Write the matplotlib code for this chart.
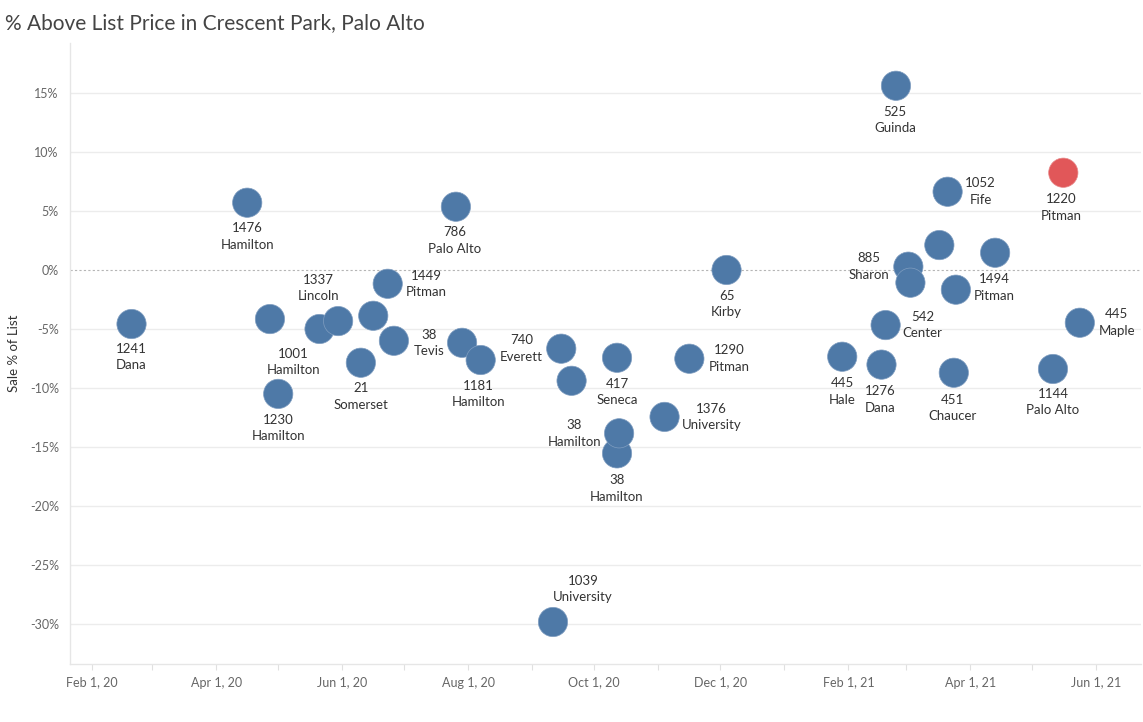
import datetime as dt
import matplotlib.pyplot as plt
import matplotlib.dates as mdates
from matplotlib.ticker import FuncFormatter, MultipleLocator

# sale date, sale price as % above/below list, address
sale_dates = [
    "2020-02-20", "2020-04-16", "2020-04-27", "2020-05-01", "2020-05-21", "2020-05-30",
    "2020-06-10", "2020-06-16", "2020-06-23", "2020-06-26", "2020-07-26", "2020-07-29",
    "2020-08-07", "2020-09-11", "2020-09-15", "2020-09-20", "2020-10-12", "2020-10-12",
    "2020-10-13", "2020-11-04", "2020-11-16", "2020-12-04", "2021-01-29", "2021-02-17",
    "2021-02-19", "2021-02-24", "2021-03-02", "2021-03-03", "2021-03-17", "2021-03-21",
    "2021-03-24", "2021-03-25", "2021-04-13", "2021-05-11", "2021-05-16", "2021-05-24",
]
pct_of_list = [
    -4.55, 5.73, -4.13, -10.47, -4.97, -4.30,
    -7.83, -3.85, -1.14, -5.97, 5.39, -6.14,
    -7.60, -29.80, -6.64, -9.36, -7.41, -15.51,
    -13.81, -12.42, -7.49, 0.03, -7.32, -7.99,
    -4.64, 15.64, 0.31, -1.05, 2.14, 6.66,
    -8.68, -1.64, 1.49, -8.36, 8.27, -4.44,
]
house_numbers = [
    "1241", "1476", "", "1230", "1001", "1337",
    "21", "", "1449", "", "786", "38",
    "1181", "1039", "740", "", "417", "38",
    "38", "1376", "1290", "65", "445", "1276",
    "542", "525", "885", "", "", "1052",
    "451", "", "1494", "1144", "1220", "445",
]
streets = [
    "Dana", "Hamilton", "", "Hamilton", "Hamilton", "Lincoln",
    "Somerset", "", "Pitman", "", "Palo Alto", "Tevis",
    "Hamilton", "University", "Everett", "", "Seneca", "Hamilton",
    "Hamilton", "University", "Pitman", "Kirby", "Hale", "Dana",
    "Center", "Guinda", "Sharon", "", "", "Fife",
    "Chaucer", "", "Pitman", "Palo Alto", "Pitman", "Maple",
]
highlight = ("1220", "Pitman")

# where each label sits relative to its mark, in pixels
label_offsets = [
    (0, -33), (0, -34), (0, 0), (0, -34), (-26, -33), (-20, 33),
    (0, -34), (0, 0), (39, 0), (0, 0), (-1, -34), (-33, 0),
    (-2, -34), (30, 33), (-40, 0), (0, 0), (0, -34), (0, -35),
    (-45, 0), (47, 0), (40, 0), (0, -34), (0, -35), (-1, -35),
    (37, 0), (-1, -34), (-39, 0), (0, 0), (0, 0), (33, 0),
    (-1, -35), (0, 0), (-1, -35), (0, -33), (-2, -35), (37, 0),
]

BLUE = "#4e79a7"
RED = "#e15759"
FONT = ["Lato", "DejaVu Sans"]


def main():
    plt.rcParams["font.family"] = FONT
    fig = plt.figure(figsize=(11.43, 7.22), dpi=100)
    ax = fig.add_axes([0.0612, 0.0803, 0.9374, 0.8601])

    xs = [mdates.date2num(dt.date.fromisoformat(d)) for d in sale_dates]
    colors = [RED if (n, s) == highlight else BLUE for n, s in zip(house_numbers, streets)]
    edges = ["#e88a8b" if c == RED else "#7f9dc0" for c in colors]

    ax.scatter(xs, pct_of_list, s=445, c=colors, edgecolors=edges, linewidths=0.5, zorder=3)

    for x, y, num, street, (dx, dy) in zip(xs, pct_of_list, house_numbers, streets, label_offsets):
        if not num:
            continue
        ax.annotate(f"{num}\n{street}", (x, y), xytext=(dx, dy), textcoords="offset pixels",
                    ha="center", va="center", multialignment="center", linespacing=1.45,
                    fontsize=9.5, color="#333333", zorder=4)

    start = mdates.date2num(dt.date(2020, 2, 1))
    ax.set_xlim(start - 10.8, start + 507.8)
    ax.set_ylim(-33.36, 19.26)

    for v in range(-30, 20, 5):
        if v == 0:
            ax.axhline(0, color="#b5b5b5", lw=0.8, ls=(0, (2, 2)), zorder=1)
        else:
            ax.axhline(v, color="#ececec", lw=1, zorder=0)

    ax.yaxis.set_major_locator(MultipleLocator(5))
    ax.yaxis.set_major_formatter(FuncFormatter(lambda v, pos: f"{v:.0f}%"))
    ax.tick_params(axis="y", length=0, pad=8, labelsize=9, labelcolor="#666666")

    ax.xaxis.set_major_locator(mdates.MonthLocator(bymonth=[2, 4, 6, 8, 10, 12]))
    ax.xaxis.set_minor_locator(mdates.MonthLocator(bymonth=[1, 3, 5, 7, 9, 11]))

    def fmt_date(x, pos):
        d = mdates.num2date(x)
        return f"{d:%b} {d.day}, {d:%y}"

    ax.xaxis.set_major_formatter(FuncFormatter(fmt_date))
    ax.tick_params(axis="x", which="both", length=4, width=0.8, color="#e0e0e0",
                   labelsize=9, labelcolor="#666666", pad=5)

    for side in ("top", "right"):
        ax.spines[side].set_visible(False)
    for side in ("left", "bottom"):
        ax.spines[side].set_color("#e6e6e6")
        ax.spines[side].set_linewidth(1)

    ax.set_ylabel("Sale % of List", fontsize=9.5, color="#333333")
    ax.yaxis.set_label_coords(-0.0467, 0.5)

    fig.text(0.0045, 0.968, "% Above List Price in Crescent Park, Palo Alto",
             fontsize=15, color="#444444", ha="left", va="center")

    fig.savefig("out.png", dpi=100)


if __name__ == "__main__":
    main()
